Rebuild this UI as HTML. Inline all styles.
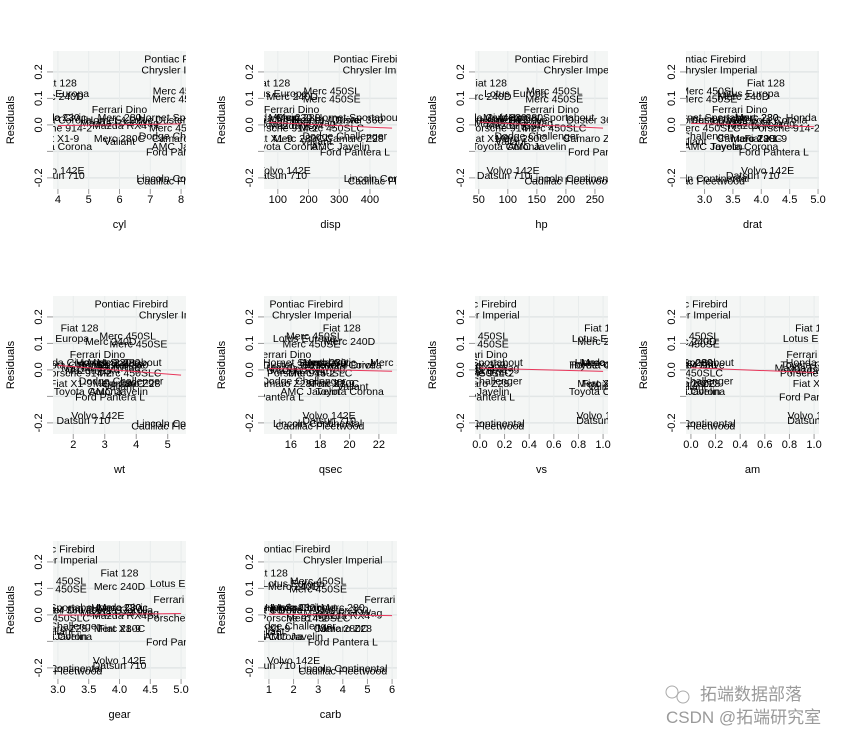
<!DOCTYPE html>
<html><head><meta charset="utf-8"><style>
body{margin:0;background:#fff;}
svg{display:block;font-family:"Liberation Sans","Noto Sans CJK SC",sans-serif;}
</style></head><body>
<svg id="chart" width="852" height="735" viewBox="0 0 852 735">
<g id="panels"></g>
<g fill="#9a9a9a">
<text x="700" y="700" font-size="17">拓端数据部落</text>
<text x="666" y="723" font-size="17">CSDN @拓端研究室</text>
<circle cx="672" cy="692" r="6" fill="none" stroke="#aaa"/>
<circle cx="683" cy="697" r="6" fill="none" stroke="#aaa"/>
</g>
</svg>
<script>
const cars=["Mazda RX4","Mazda RX4 Wag","Datsun 710","Hornet 4 Drive","Hornet Sportabout","Valiant","Duster 360","Merc 240D","Merc 230","Merc 280","Merc 280C","Merc 450SE","Merc 450SL","Merc 450SLC","Cadillac Fleetwood","Lincoln Continental","Chrysler Imperial","Fiat 128","Honda Civic","Toyota Corolla","Toyota Corona","Dodge Challenger","AMC Javelin","Camaro Z28","Pontiac Firebird","Fiat X1-9","Porsche 914-2","Lotus Europa","Ford Pantera L","Ferrari Dino","Volvo 142E"];
const residuals=[0.0,0.01,-0.19,0.02,0.03,-0.06,0.02,0.11,0.03,0.03,-0.05,0.10,0.13,-0.01,-0.21,-0.20,0.21,0.16,0.03,0.02,-0.08,-0.04,-0.08,-0.05,0.25,-0.05,-0.01,0.12,-0.10,0.06,-0.17];
const cyl=[6,6,4,6,8,6,8,4,4,6,6,8,8,8,8,8,8,4,4,4,4,8,8,8,8,4,4,4,8,6,4];
const disp=[160,160,108,258,360,225,360,146.7,140.8,167.6,167.6,275.8,275.8,275.8,472,460,440,78.7,75.7,71.1,120.1,318,304,350,400,79,120.3,95.1,351,145,121];
const hp=[110,110,93,110,175,105,245,62,95,123,123,180,180,180,205,215,230,66,52,65,97,150,150,245,175,66,91,113,264,175,109];
const drat=[3.9,3.9,3.85,3.08,3.15,2.76,3.21,3.69,3.92,3.92,3.92,3.07,3.07,3.07,2.93,3.0,3.23,4.08,4.93,4.22,3.7,2.76,3.15,3.73,3.08,4.08,4.43,3.77,4.22,3.62,4.11];
const wt=[2.62,2.875,2.32,3.215,3.44,3.46,3.57,3.19,3.15,3.44,3.44,4.07,3.73,3.78,5.25,5.424,5.345,2.2,1.615,1.835,2.465,3.52,3.435,3.84,3.845,1.935,2.14,1.513,3.17,2.77,2.78];
const qsec=[16.46,17.02,18.61,19.44,17.02,20.22,15.84,20,22.9,18.3,18.9,17.4,17.6,18,17.98,17.82,17.42,19.47,18.52,19.9,20.01,16.87,17.3,15.41,17.05,18.9,16.7,16.9,14.5,15.5,18.6];
const vs=[0,0,1,1,0,1,0,1,1,1,1,0,0,0,0,0,0,1,1,1,1,0,0,0,0,1,0,1,0,0,1];
const am=[1,1,1,0,0,0,0,0,0,0,0,0,0,0,0,0,0,1,1,1,0,0,0,0,0,1,1,1,1,1,1];
const gear=[4,4,4,3,3,3,3,4,4,4,4,3,3,3,3,3,3,4,4,4,3,3,3,3,3,4,5,5,5,5,4];
const carb=[4,4,1,1,2,1,4,2,2,4,4,3,3,3,4,4,4,1,2,1,1,2,2,4,2,1,2,2,4,6,2];
const predictorNames=["cyl","disp","hp","drat","wt","qsec","vs","am","gear","carb"];
const predictorValues=[cyl,disp,hp,drat,wt,qsec,vs,am,gear,carb];
const xTicks=[[4,5,6,7,8],[100,200,300,400],[50,100,150,200,250],[3.0,3.5,4.0,4.5,5.0],[2,3,4,5],[16,18,20,22],[0,0.2,0.4,0.6,0.8,1],[0,0.2,0.4,0.6,0.8,1],[3,3.5,4,4.5,5],[1,2,3,4,5,6]];
const xTickLabels=[["4","5","6","7","8"],["100","200","300","400"],["50","100","150","200","250"],["3.0","3.5","4.0","4.5","5.0"],["2","3","4","5"],["16","18","20","22"],["0.0","0.2","0.4","0.6","0.8","1.0"],["0.0","0.2","0.4","0.6","0.8","1.0"],["3.0","3.5","4.0","4.5","5.0"],["1","2","3","4","5","6"]];
const yTicks=[-0.2,-0.1,0,0.1,0.2];
const yTickLabels=["-0.2","","0.0","0.1","0.2"];

const NS="http://www.w3.org/2000/svg";
const root=document.getElementById('panels');
function mk(tag,attrs,parent){const e=document.createElementNS(NS,tag);for(const k in attrs)e.setAttribute(k,attrs[k]);parent.appendChild(e);return e;}
const W=133,H=138,Y0=0.279,Y1=-0.242;
const xs=[53,264,475,686],ys=[51,296,541];
predictorNames.forEach((pn,i)=>{
  const vals=predictorValues[i];
  const L=xs[i%4],T=ys[Math.floor(i/4)];
  const mn=Math.min(...vals),mx=Math.max(...vals);
  const pad=(mx-mn)*0.04,a=mn-pad,b=mx+pad;
  const sx=v=>L+(v-a)/(b-a)*W;
  const sy=v=>T+(Y0-v)/(Y0-Y1)*H;
  const g=mk('g',{},root);
  
  
  const cp=mk('clipPath',{id:'cp'+i},g);mk('rect',{x:L,y:T,width:W,height:H},cp);
  const bg=mk('rect',{x:L,y:T,width:W,height:H,fill:'#f4f6f5'},g);
  
  
  yTicks.forEach((t,k)=>{
    mk('line',{x1:L,x2:L+W,y1:sy(t),y2:sy(t),stroke:'#e2e6e6','stroke-width':1.5},g);
    mk('line',{x1:L-6,x2:L,y1:sy(t),y2:sy(t),stroke:'#999'},g);
    if(yTickLabels[k]){const tx=mk('text',{x:0,y:0,'font-size':11,'text-anchor':'middle',transform:`translate(${L-11},${sy(t)}) rotate(-90)`},g);tx.textContent=yTickLabels[k];
    
    }
  });
  xTicks[i].forEach((t,k)=>{
    mk('line',{x1:sx(t),x2:sx(t),y1:T+H,y2:T+H+5,stroke:'#999'},g);
    mk('line',{x1:sx(t),x2:sx(t),y1:T,y2:T+H,stroke:'#e8ecec'},g);
    const tx=mk('text',{x:sx(t),y:T+H+14,'font-size':11,'text-anchor':'middle'},g);tx.textContent=xTickLabels[i][k];
    
    
  });
  const xt=mk('text',{x:L+W/2,y:T+H+39,'font-size':11,'text-anchor':'middle'},g);xt.textContent=pn;
  
  
  const yt=mk('text',{x:0,y:0,'font-size':11,'text-anchor':'middle',transform:`translate(${L-39},${T+H/2}) rotate(-90)`},g);yt.textContent='Residuals';
  
  
  const cg=mk('g',{'clip-path':`url(#cp${i})`},g);
  cars.forEach((c,j)=>{
    const tx=mk('text',{x:sx(vals[j]),y:sy(residuals[j])+4,'font-size':10.5,'text-anchor':'middle',fill:'#000'},cg);
    tx.textContent=c;
    
    
  });
  const n=vals.length,mxv=vals.reduce((s,v)=>s+v,0)/n,myv=residuals.reduce((s,v)=>s+v,0)/n;
  let sxy=0,sxx=0;vals.forEach((v,j)=>{sxy+=(v-mxv)*(residuals[j]-myv);sxx+=(v-mxv)*(v-mxv);});
  const sl=sxx?sxy/sxx:0;
  const ln=mk('line',{x1:sx(mn),y1:sy(myv+sl*(mn-mxv)),x2:sx(mx),y2:sy(myv+sl*(mx-mxv)),stroke:'#e8365a','stroke-width':1},cg);
  
  
});
</script>
</body></html>
